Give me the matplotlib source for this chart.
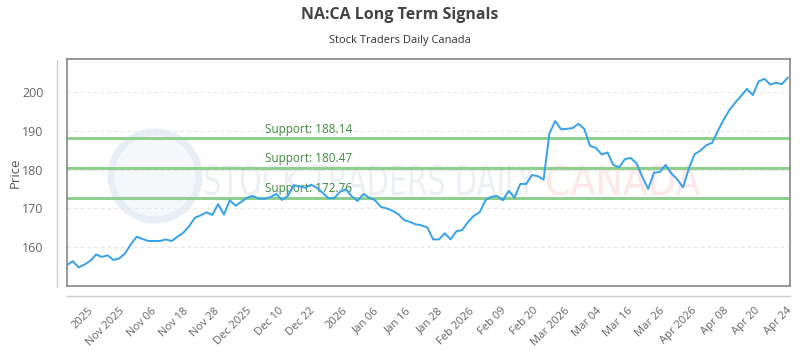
import numpy as np
import matplotlib
matplotlib.use("Agg")
from matplotlib import pyplot as plt
from matplotlib.lines import Line2D
from matplotlib.patches import Ellipse, PathPatch
from matplotlib.textpath import TextPath
from matplotlib.font_manager import FontProperties
from matplotlib.transforms import Affine2D

plt.rcParams['font.family'] = ['Open Sans', 'DejaVu Sans']

# daily closing prices
prices = [155.4, 156.4, 154.8, 155.5, 156.5, 158.1, 157.5, 157.9, 156.7, 157.1,
          158.4, 160.8, 162.7, 162.1, 161.6, 161.6, 161.6, 162.0, 161.6, 162.7,
          163.7, 165.4, 167.6, 168.2, 169.0, 168.3, 171.1, 168.4, 172.1, 170.7,
          171.7, 172.8, 173.2, 172.5, 172.5, 172.9, 173.7, 172.2, 173.2, 176.0,
          175.7, 175.3, 176.1, 175.3, 174.0, 172.6, 172.7, 174.3, 174.9, 173.1,
          171.9, 173.7, 172.8, 172.1, 170.4, 170.0, 169.4, 168.5, 167.0, 166.5,
          165.9, 165.6, 165.1, 162.0, 162.0, 163.6, 162.0, 164.1, 164.4, 166.5,
          168.1, 169.0, 172.1, 173.0, 173.2, 172.1, 174.5, 172.8, 176.3, 176.3,
          178.6, 178.3, 177.4, 189.3, 192.5, 190.4, 190.5, 190.7, 191.8, 190.5,
          186.1, 185.6, 183.9, 184.4, 181.2, 180.6, 182.7, 183.0, 181.6, 178.1,
          175.0, 179.2, 179.4, 181.2, 179.0, 177.5, 175.4, 180.3, 184.0, 184.9,
          186.3, 186.9, 190.0, 192.9, 195.4, 197.3, 199.0, 200.8, 199.2, 202.7,
          203.4, 201.9, 202.4, 202.0, 203.7]

supports = [188.14, 180.47, 172.76]

tick_labels = ["2025", "Nov 2025", "Nov 06", "Nov 18", "Nov 28", "Dec 2025",
               "Dec 10", "Dec 22", "2026", "Jan 06", "Jan 16", "Jan 28",
               "Feb 2026", "Feb 09", "Feb 20", "Mar 2026", "Mar 04", "Mar 16",
               "Mar 26", "Apr 2026", "Apr 08", "Apr 20", "Apr 24"]

W, H = 800, 350
fig = plt.figure(figsize=(8, 3.5), dpi=100)
ax = fig.add_axes([67/W, 1 - 286/H, (790 - 67)/W, (286 - 59)/H])

x = np.arange(len(prices))
ax.set_xlim(0, len(prices) - 0.6)
ax.set_ylim(150, 208.5)


def watermark(txt, left, right, bottom, color):
    # condensed text squeezed into a pixel box
    p = TextPath((0, 0), txt, size=41, prop=FontProperties(family='DejaVu Sans'))
    ext = p.get_extents()
    k = (right - left) / ext.width
    tr = Affine2D().translate(-ext.x0, 0).scale(k / W, 1 / H).translate(left / W, 1 - bottom / H)
    ax.add_patch(PathPatch(p, transform=tr + fig.transFigure, facecolor=color,
                           edgecolor='none', zorder=0.2))


ax.add_patch(Ellipse((155/W, 1 - 176/H), 88/W, 88/H, transform=fig.transFigure,
                     facecolor='#f5f8fb', edgecolor='#e8eef5', lw=5, zorder=0.1))
watermark("STOCK TRADERS DAILY", 205, 535, 195, '#ecf0f6')
watermark("CANADA", 547, 700, 195, '#fde7e7')

ax.set_yticks([160, 170, 180, 190, 200])
ax.grid(axis='y', color='#e6e6e6', linestyle=(0, (3, 3)), linewidth=0.8, zorder=0.5)
ax.set_axisbelow(True)

for s in supports:
    ax.axhline(s, color='#90cf90', linewidth=2.2, zorder=2)
    ax.text(34, s + 0.6, "Support: %.2f" % s, color='#3f8a3f', fontsize=8.5,
            va='bottom', ha='left', zorder=3)

ax.plot(x, prices, color='#36a2eb', linewidth=1.4, zorder=4)

ticks = np.linspace(3.5, 123.8, len(tick_labels))
ax.set_xticks(ticks)
ax.set_xticklabels(tick_labels, rotation=45, ha='right', rotation_mode='anchor')
ax.tick_params(axis='x', length=0, pad=14, labelsize=8, labelcolor='#666666')
ax.tick_params(axis='y', length=0, pad=17, labelsize=9, labelcolor='#666666')

for sp in ax.spines.values():
    sp.set_color('#888888')
    sp.set_linewidth(1.2)

fig.add_artist(Line2D([57/W, 57/W], [1 - 287/H, 1 - 60/H], color='#cccccc', lw=1))
fig.add_artist(Line2D([67/W, 790/W], [1 - 296/H, 1 - 296/H], color='#cccccc', lw=1))

fig.text(15/W, 1 - 173/H, "Price", rotation=90, ha='center', va='center',
         fontsize=9.5, color='#555555')
fig.text(0.5, 1 - 15/H, "NA:CA Long Term Signals", ha='center', va='center',
         fontsize=11.5, fontweight='bold', color='#444444')
fig.text(0.5, 1 - 40/H, "Stock Traders Daily Canada", ha='center', va='center',
         fontsize=8, color='#333333')

fig.savefig("out.png", dpi=100)
